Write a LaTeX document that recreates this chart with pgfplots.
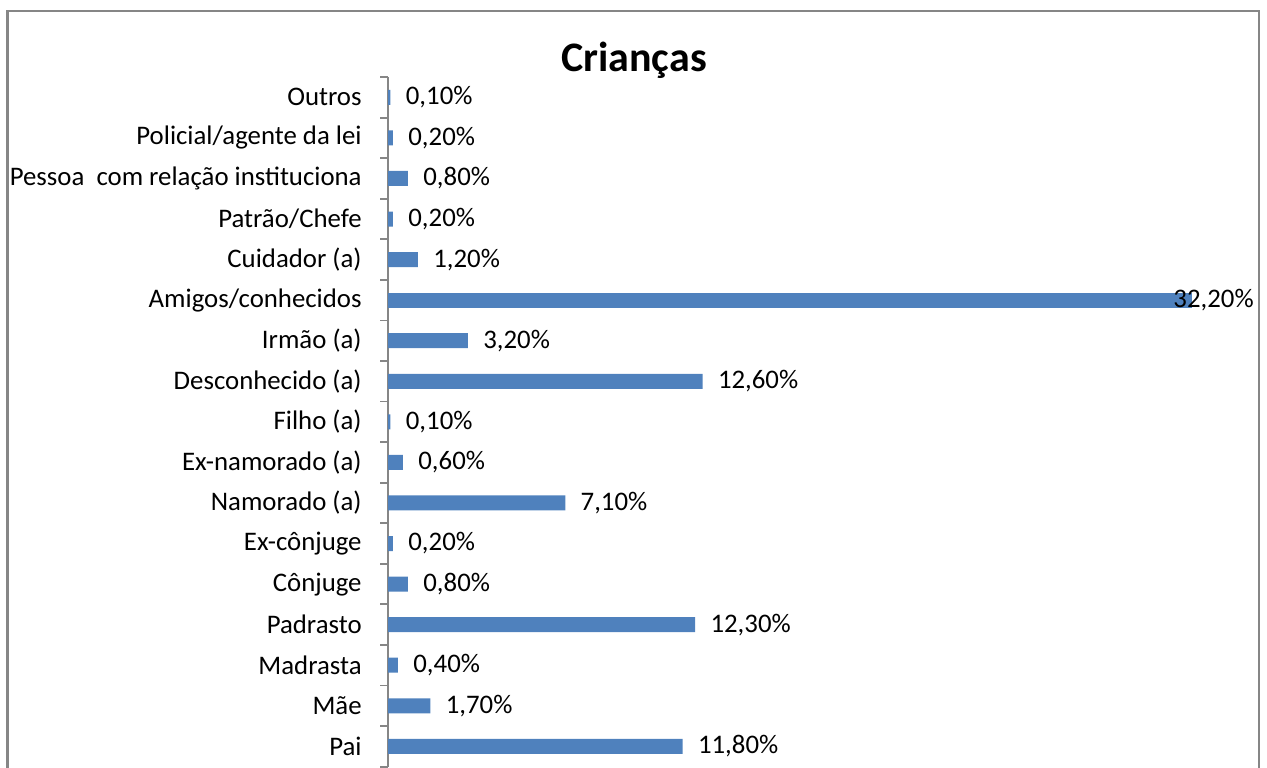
\documentclass[border=0pt]{standalone}
\usepackage{pgfplots}
\pgfplotsset{compat=1.18}
\usepackage{fontspec}
\setmainfont{Carlito}
\definecolor{barblue}{HTML}{4F81BD}
\definecolor{axgray}{HTML}{868686}
\begin{document}
\begin{tikzpicture}[x=0.5pt,y=0.5pt]
\useasboundingbox (0,0) rectangle (1267,767);
\draw[axgray, line width=1.2pt] (7.5,-20) -- (7.5,756) -- (1259,756) -- (1259,-20);
\node[anchor=base, font=\fontsize{21}{25}\selectfont\bfseries, inner sep=0pt] at (634,695) {Crianças};
\begin{axis}[
  at={(194pt,0.2pt)}, anchor=south west,
  scale only axis,
  width=424.5pt, height=344.75pt,
  xmin=0, xmax=34, ymin=-0.5, ymax=16.5,
  enlargelimits=false, clip=false,
  axis y line=left, axis x line=none,
  axis line style={-, axgray, line width=0.9pt},
  ytick={0,...,16},
  yticklabels={Pai, Mãe, Madrasta, Padrasto, Cônjuge, Ex-cônjuge, Namorado (a), Ex-namorado (a), Filho (a), Desconhecido (a), Irmão (a), Amigos/conhecidos, Cuidador (a), Patrão/Chefe, {Pessoa\ \ com relação instituciona}, Policial/agente da lei, Outros},
  minor ytick={-0.5,0.5,...,16.5},
  major tick length=0pt, minor tick length=4pt,
  tick align=outside,
  minor tick style={axgray, line width=0.9pt},
  yticklabel style={anchor=east, inner sep=0pt, xshift=-13pt, font=\fontsize{13.4}{15}\selectfont},
  /pgf/number format/assume math mode=true,
  xbar, bar width=7.5pt, bar shift=0pt,
  point meta=x,
  nodes near coords={\pgfmathprintnumber[fixed, fixed zerofill, precision=2, use comma]{\pgfplotspointmeta}\%},
  every node near coord/.append style={anchor=west, inner sep=0pt, xshift=7.5pt, font=\fontsize{13.4}{15}\selectfont, text=black},
]
\addplot[fill=barblue, draw=none] coordinates {
(11.8,0) (1.7,1) (0.4,2) (12.3,3) (0.8,4) (0.2,5) (7.1,6) (0.6,7) (0.1,8) (12.6,9) (3.2,10) (1.2,12) (0.2,13) (0.8,14) (0.2,15) (0.1,16)};
\addplot[fill=barblue, draw=none, every node near coord/.append style={xshift=-17pt}] coordinates {(32.2,11)};
\end{axis}
\end{tikzpicture}
\end{document}
